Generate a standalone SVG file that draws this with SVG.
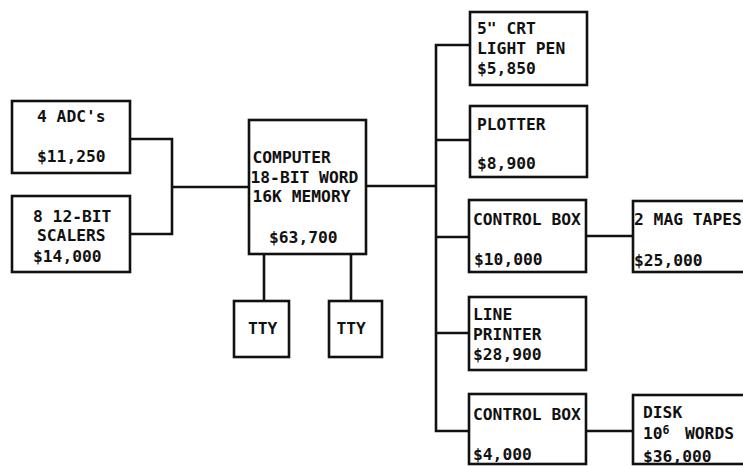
<svg xmlns="http://www.w3.org/2000/svg" width="743" height="466" viewBox="0 0 743 466">
<style>
.box{fill:#fff;stroke:#111;stroke-width:2.6}
.wire{fill:none;stroke:#111;stroke-width:2.6;stroke-linejoin:miter}
text{font-family:"DejaVu Sans Mono","Liberation Mono",monospace;font-size:16.3px;font-weight:bold;fill:#111}
</style>
<rect width="743" height="466" fill="#fff"/>
<g id="connectors">
<polyline class="wire" points="130,139 172,139 172,234 130,234"/>
<line class="wire" x1="172" y1="187" x2="249" y2="187"/>
<line class="wire" x1="366" y1="186" x2="436" y2="186"/>
<polyline class="wire" points="470,45 436,45 436,431 469,431"/>
<line class="wire" x1="436" y1="140" x2="470" y2="140"/>
<line class="wire" x1="436" y1="237" x2="469" y2="237"/>
<line class="wire" x1="436" y1="333" x2="469" y2="333"/>
<line class="wire" x1="586" y1="236" x2="633" y2="236"/>
<line class="wire" x1="586" y1="431" x2="633" y2="431"/>
<line class="wire" x1="264" y1="254" x2="264" y2="301"/>
<line class="wire" x1="351" y1="254" x2="351" y2="301"/>
</g>
<g id="adc">
<rect class="box" x="12" y="101" width="118" height="72"/>
<text x="37" y="122">4 ADC's</text>
<text x="37" y="161.5">$11,250</text>
</g>
<g id="scalers">
<rect class="box" x="12" y="196" width="118" height="76"/>
<text x="33" y="221.5">8 12-BIT</text>
<text x="37" y="240.5">SCALERS</text>
<text x="33" y="261.5">$14,000</text>
</g>
<g id="computer">
<rect class="box" x="249" y="120" width="117" height="134"/>
<text x="252.5" y="162.5">COMPUTER</text>
<text x="250.5" y="182.5">18-BIT WORD</text>
<text x="252.5" y="201.5">16K MEMORY</text>
<text x="269" y="243">$63,700</text>
</g>
<g id="tty1">
<rect class="box" x="234" y="301" width="55" height="56"/>
<text x="248" y="333.5">TTY</text>
</g>
<g id="tty2">
<rect class="box" x="329" y="301" width="53" height="56"/>
<text x="336.5" y="333.5">TTY</text>
</g>
<g id="crt">
<rect class="box" x="470" y="12" width="117" height="73"/>
<text x="477" y="33.5">5" CRT</text>
<text x="477" y="53.5">LIGHT PEN</text>
<text x="477" y="73.5">$5,850</text>
</g>
<g id="plotter">
<rect class="box" x="470" y="106" width="117" height="71"/>
<text x="477" y="130">PLOTTER</text>
<text x="477" y="168.5">$8,900</text>
</g>
<g id="controlbox1">
<rect class="box" x="469" y="200" width="117" height="72"/>
<text x="473" y="225">CONTROL BOX</text>
<text x="474" y="265">$10,000</text>
</g>
<g id="lineprinter">
<rect class="box" x="469" y="297" width="117" height="73"/>
<text x="473" y="320">LINE</text>
<text x="473" y="340">PRINTER</text>
<text x="473" y="359.5">$28,900</text>
</g>
<g id="controlbox2">
<rect class="box" x="469" y="394" width="117" height="70"/>
<text x="473" y="419.5">CONTROL BOX</text>
<text x="473" y="460">$4,000</text>
</g>
<g id="magtapes">
<rect class="box" x="633" y="201" width="115" height="71"/>
<text x="634" y="225">2 MAG TAPES</text>
<text x="634" y="266">$25,000</text>
</g>
<g id="disk">
<rect class="box" x="633" y="395" width="115" height="69"/>
<text x="643" y="417.5">DISK</text>
<text x="643" y="438.5">10<tspan dy="-5" font-size="11.5px">6</tspan><tspan x="685" dy="5">WORDS</tspan></text>
<text x="643" y="461.5">$36,000</text>
</g>
</svg>
